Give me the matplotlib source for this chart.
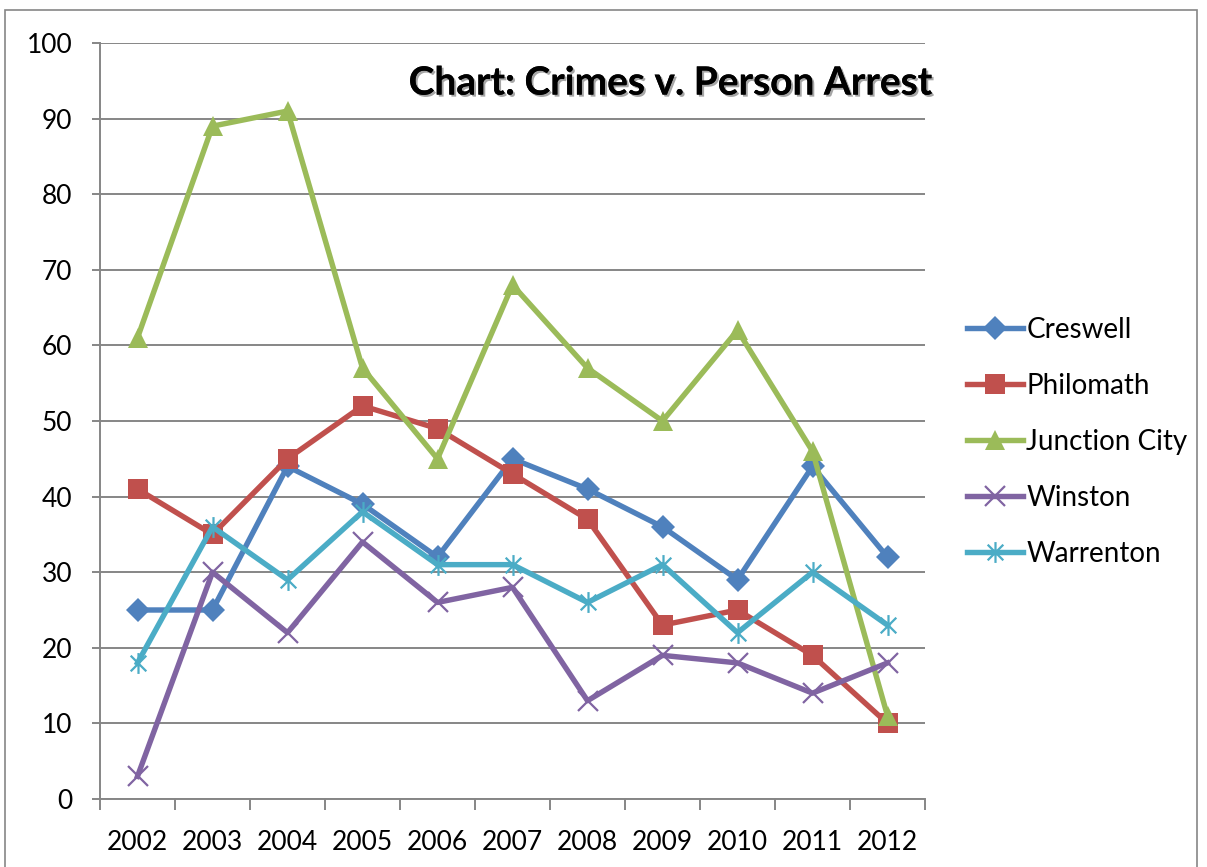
import matplotlib
matplotlib.use("Agg")
import matplotlib.pyplot as plt
from matplotlib.path import Path
from matplotlib import patheffects as pe
from matplotlib.patches import Rectangle

years = ["2002", "2003", "2004", "2005", "2006", "2007", "2008", "2009", "2010", "2011", "2012"]
creswell = [25, 25, 44, 39, 32, 45, 41, 36, 29, 44, 32]
philomath = [41, 35, 45, 52, 49, 43, 37, 23, 25, 19, 10]
junction_city = [61, 89, 91, 57, 45, 68, 57, 50, 62, 46, 11]
winston = [3, 30, 22, 34, 26, 28, 13, 19, 18, 14, 18]
warrenton = [18, 36, 29, 38, 31, 31, 26, 31, 22, 30, 23]

plt.rcParams['font.family'] = ['Lato', 'DejaVu Sans']

# asterisk marker: vertical stroke plus an X
star = Path([(0, -1), (0, 1), (-0.75, -0.75), (0.75, 0.75), (-0.75, 0.75), (0.75, -0.75)],
            [Path.MOVETO, Path.LINETO, Path.MOVETO, Path.LINETO, Path.MOVETO, Path.LINETO])

series = [
    ("Creswell", creswell, "#4F81BD", "D", 12, None),
    ("Philomath", philomath, "#C0504D", "s", 14, None),
    ("Junction City", junction_city, "#9BBB59", "^", 15, None),
    ("Winston", winston, "#8064A2", "x", 14, 1.6),
    ("Warrenton", warrenton, "#4BACC6", star, 15, 1.6),
]

fig = plt.figure(figsize=(12.07, 8.67), dpi=100)
ax = fig.add_axes([100 / 1207, 1 - 799 / 867, 825 / 1207, 756 / 867])

x = list(range(len(years)))
for name, vals, color, marker, ms, mew in series:
    kw = dict(color=color, lw=3.9, marker=marker, markersize=ms, label=name,
              markerfacecolor=color, markeredgecolor=color, zorder=3)
    kw["markeredgewidth"] = mew if mew is not None else 0
    ax.plot(x, vals, **kw)

ax.set_xlim(-0.5, len(years) - 0.5)
ax.set_ylim(0, 100)
ax.set_yticks(range(0, 101, 10))
ax.yaxis.grid(True, color="#868686", lw=1.4, zorder=0)
ax.set_axisbelow(True)

ax.set_xticks([i - 0.5 for i in range(len(years) + 1)])
ax.set_xticklabels([])
ax.set_xticks(x, minor=True)
ax.set_xticklabels(years, minor=True)
ax.tick_params(axis="x", which="major", length=8, width=1.4, color="#868686", direction="out")
ax.tick_params(axis="x", which="minor", length=0, pad=22, labelsize=19)
ax.tick_params(axis="y", length=6, width=1.4, color="#868686", pad=14, labelsize=19)

for s in ["top", "right"]:
    ax.spines[s].set_visible(False)
for s in ["left", "bottom"]:
    ax.spines[s].set_color("#868686")
    ax.spines[s].set_linewidth(1.4)

ax.text(1.0085, 0.947, "Chart: Crimes v. Person Arrest", transform=ax.transAxes,
        ha="right", va="center", fontsize=28, fontweight="bold", color="black",
        path_effects=[pe.withSimplePatchShadow(offset=(1.5, -1.5), alpha=0.35), pe.Normal()])

leg = ax.legend(loc="center left", bbox_to_anchor=(1.038, 0.472), frameon=False,
                fontsize=20, handlelength=2.0, handletextpad=0.12, labelspacing=1.08,
                borderaxespad=0)

fig.patches.append(Rectangle((5 / 1207, -0.01), 1192 / 1207, 1 - 10 / 867 + 0.01,
                             transform=fig.transFigure, fill=False,
                             edgecolor="#868686", lw=1.2))

fig.savefig("out.png", dpi=100)
